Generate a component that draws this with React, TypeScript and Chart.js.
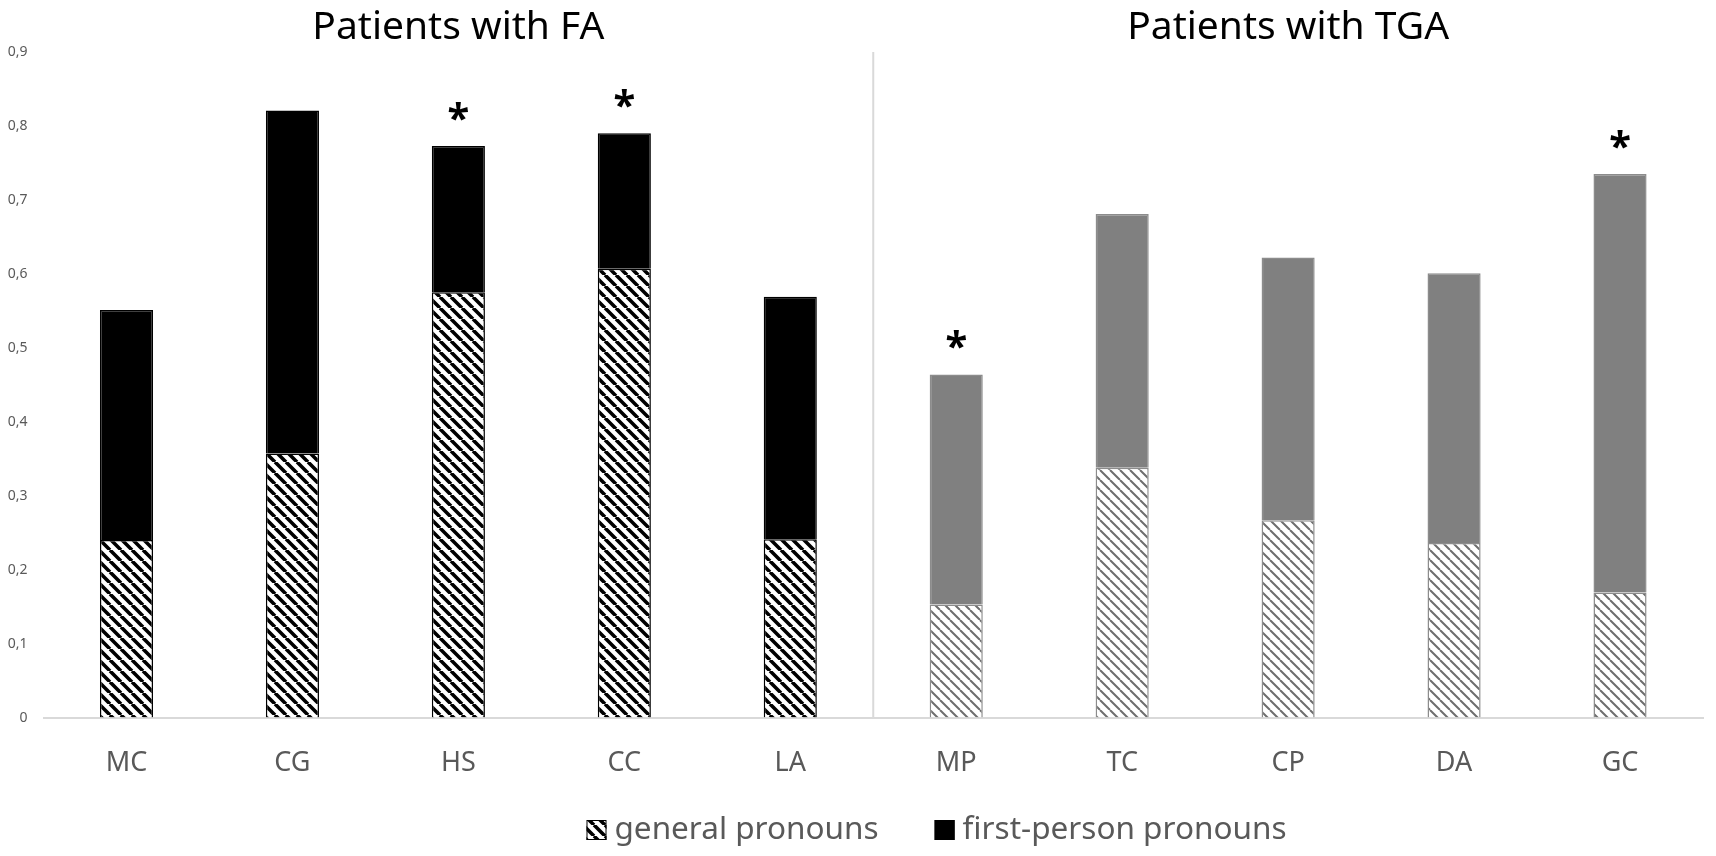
import { useEffect, useRef } from "react"
import { Chart, registerables } from "chart.js"

Chart.register(...registerables)

// data
const patients = ["MC", "CG", "HS", "CC", "LA", "MP", "TC", "CP", "DA", "GC"]
const groups = ["FA", "FA", "FA", "FA", "FA", "TGA", "TGA", "TGA", "TGA", "TGA"]
const generalPronouns = [0.24, 0.357, 0.575, 0.607, 0.241, 0.153, 0.338, 0.267, 0.236, 0.169]
const firstPersonPronouns = [0.311, 0.464, 0.198, 0.183, 0.328, 0.311, 0.343, 0.355, 0.365, 0.566]
const significant = [false, false, true, true, false, true, false, false, false, true]
const groupTitles = ["Patients with FA", "Patients with TGA"]
const yTickLabels = ["0", "0,1", "0,2", "0,3", "0,4", "0,5", "0,6", "0,7", "0,8", "0,9"]

const FONT = "'Noto Sans', 'Open Sans', sans-serif"
const TEXT_GREY = "#595959"

function makeHatch(color: string, lineWidth: number, size: number) {
  const c = document.createElement("canvas")
  c.width = size
  c.height = size
  const g = c.getContext("2d")!
  g.fillStyle = "#ffffff"
  g.fillRect(0, 0, size, size)
  g.strokeStyle = color
  g.lineWidth = lineWidth
  g.beginPath()
  for (const off of [-size, 0, size]) {
    g.moveTo(off, 0)
    g.lineTo(off + size, size)
  }
  g.stroke()
  return g.createPattern(c, "repeat")!
}

// titles, divider, asterisks and the legend
const decorations = {
  id: "decorations",
  afterDatasetsDraw(chart: Chart) {
    const { ctx, chartArea, scales } = chart
    const x = scales.x
    ctx.save()

    // divider between the two groups
    const split = groups.indexOf("TGA")
    const dx = (x.getPixelForValue(split - 1) + x.getPixelForValue(split)) / 2
    ctx.strokeStyle = "#d9d9d9"
    ctx.lineWidth = 2
    ctx.beginPath()
    ctx.moveTo(dx, chartArea.top)
    ctx.lineTo(dx, chartArea.bottom)
    ctx.stroke()

    // group titles
    ctx.fillStyle = "#000"
    ctx.font = `39px ${FONT}`
    ctx.textAlign = "center"
    ctx.textBaseline = "alphabetic"
    groupTitles.forEach((t, k) => {
      const key = k === 0 ? "FA" : "TGA"
      const idx = groups.map((g, i) => (g === key ? i : -1)).filter((i) => i >= 0)
      const cx = (x.getPixelForValue(idx[0]) + x.getPixelForValue(idx[idx.length - 1])) / 2
      ctx.fillText(t, cx, 39)
    })

    // significance asterisks
    const meta = chart.getDatasetMeta(1)
    ctx.font = `bold 40px ${FONT}`
    significant.forEach((s, i) => {
      if (!s) return
      const bar = meta.data[i] as any
      ctx.fillText("*", bar.x, bar.y - 14)
    })

    // legend
    const box = 20
    const gap = 56
    ctx.font = `31.5px ${FONT}`
    const items = chart.data.datasets.map((d: any) => ({
      text: d.label as string,
      fill: d.backgroundColor[0],
      stroke: d.borderColor[0],
    }))
    let lx = chartArea.left + 543
    const ly = 830
    ctx.textAlign = "left"
    ctx.textBaseline = "middle"
    items.forEach((it) => {
      ctx.fillStyle = it.fill
      ctx.fillRect(lx, ly - box / 2, box, box)
      ctx.strokeStyle = it.stroke
      ctx.lineWidth = 1
      ctx.strokeRect(lx + 0.5, ly - box / 2 + 0.5, box - 1, box - 1)
      ctx.fillStyle = TEXT_GREY
      ctx.fillText(it.text, lx + box + 8, ly)
      lx += box + 8 + ctx.measureText(it.text).width + gap
    })
    ctx.restore()
  },
}

export default function App() {
  const chartRef = useRef<HTMLCanvasElement>(null)
  const chartInstance = useRef<Chart | null>(null)

  useEffect(() => {
    if (!chartRef.current) return
    if (chartInstance.current) chartInstance.current.destroy()

    const faHatch = makeHatch("#000000", 3.6, 11)
    const tgaHatch = makeHatch("#6e6e6e", 2, 10)

    chartInstance.current = new Chart(chartRef.current, {
      type: "bar",
      data: {
        labels: patients,
        datasets: [
          {
            label: "general pronouns",
            data: generalPronouns,
            backgroundColor: groups.map((g) => (g === "FA" ? faHatch : tgaHatch)),
            borderColor: groups.map((g) => (g === "FA" ? "#000000" : "#8c8c8c")),
            borderWidth: 1.5,
            barPercentage: 0.32,
            categoryPercentage: 1,
          },
          {
            label: "first-person pronouns",
            data: firstPersonPronouns,
            backgroundColor: groups.map((g) => (g === "FA" ? "#000000" : "#808080")),
            borderColor: groups.map((g) => (g === "FA" ? "#000000" : "#8c8c8c")),
            borderWidth: 1.5,
            barPercentage: 0.32,
            categoryPercentage: 1,
          },
        ],
      },
      options: {
        animation: false,
        responsive: true,
        maintainAspectRatio: false,
        layout: { padding: { top: 52, left: 0, right: 13, bottom: 46 } },
        plugins: {
          legend: { display: false },
          tooltip: { enabled: false },
        },
        scales: {
          x: {
            stacked: true,
            grid: { display: false, drawTicks: false },
            border: { display: true, color: "#d9d9d9", width: 2 },
            ticks: {
              font: { family: FONT, size: 27 },
              color: TEXT_GREY,
              padding: 30,
            },
          },
          y: {
            stacked: true,
            min: 0,
            max: 0.9,
            grid: { display: false, drawTicks: false },
            border: { display: false },
            ticks: {
              stepSize: 0.1,
              font: { family: FONT, size: 14 },
              color: TEXT_GREY,
              padding: 16,
              callback: (_v: any, i: number) => yTickLabels[i],
            },
            afterFit: (scale: any) => {
              scale.width = 43.5
            },
          },
        },
      },
      plugins: [decorations],
    })

    return () => {
      if (chartInstance.current) {
        chartInstance.current.destroy()
        chartInstance.current = null
      }
    }
  }, [])

  return (
    <div style={{ position: "fixed", left: 0, top: 0, width: 1716, height: 856, background: "#fff" }}>
      <canvas ref={chartRef} />
    </div>
  )
}
